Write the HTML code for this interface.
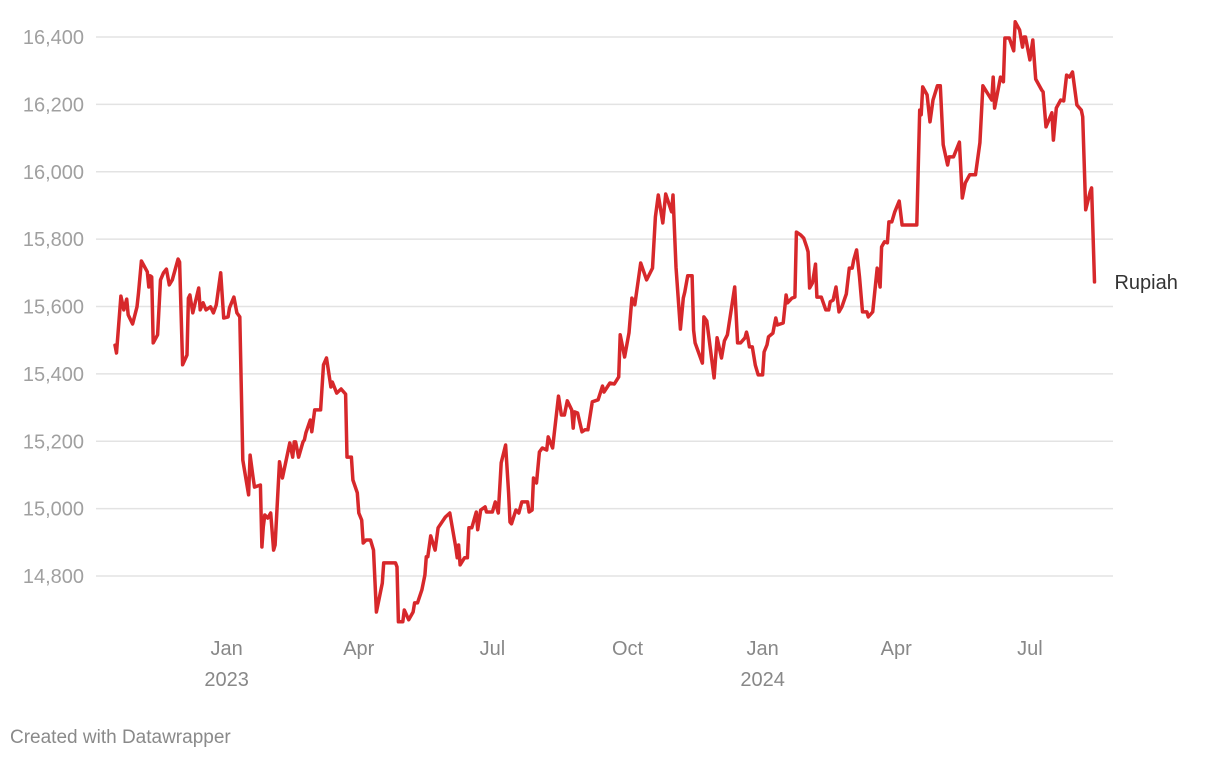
<!DOCTYPE html>
<html><head><meta charset="utf-8"><style>
html,body{margin:0;padding:0;background:#fff;width:1220px;height:760px;overflow:hidden;font-family:"Liberation Sans",Arial,sans-serif}
svg{display:block}
</style></head><body>
<svg id="chart" width="1220" height="760" viewBox="0 0 1220 760" xmlns="http://www.w3.org/2000/svg">
<g id="grid"></g>
<g id="yaxis"></g>
<g id="xaxis"></g>
<g id="series"></g>
<text x="10" y="743" font-size="19" fill="#8a8a8a">Created with Datawrapper</text>
</svg>
<script>
const startDate = "2022-10-17";
const dayOffsets = [0,1,4,6,8,9,12,15,16,18,22,23,24,25,26,29,31,33,35,37,39,43,44,46,49,50,51,53,57,58,60,62,65,67,69,72,74,77,78,81,83,85,87,91,92,94,95,99,100,101,102,104,106,108,109,112,114,117,119,121,122,123,125,128,129,130,133,134,136,140,142,144,147,148,151,154,157,158,161,162,165,166,168,169,171,174,176,178,182,183,191,192,193,196,197,200,203,204,206,209,211,212,213,215,218,220,225,228,232,233,234,235,238,240,241,243,246,247,249,252,253,257,259,261,263,266,268,269,270,273,275,277,281,282,284,285,287,289,291,294,295,298,299,302,304,306,308,311,312,313,315,318,320,322,325,329,332,333,337,340,343,344,347,350,352,354,358,362,366,368,370,373,375,379,380,382,385,387,388,390,393,394,395,400,401,403,408,410,413,415,417,422,424,426,429,430,431,432,434,436,438,441,442,444,445,448,449,450,451,455,457,458,461,463,464,467,469,471,472,473,475,477,478,481,484,486,487,489,491,493,495,498,500,502,503,505,507,509,512,513,516,519,521,522,524,526,527,529,531,534,536,546,548,549,550,553,555,557,560,562,564,567,568,571,575,577,579,582,586,589,591,597,598,599,603,605,606,609,612,613,616,618,619,620,623,625,627,631,632,634,638,639,641,644,646,648,650,652,655,658,659,661,664,665,667];
const rupiahValues = [15485,15462,15631,15590,15622,15575,15548,15599,15640,15735,15703,15658,15691,15688,15492,15516,15679,15700,15711,15664,15679,15741,15732,15427,15456,15625,15634,15581,15655,15590,15611,15590,15599,15581,15605,15700,15566,15569,15596,15628,15581,15569,15144,15041,15159,15094,15064,15070,14886,14946,14981,14972,14987,14877,14892,15139,15091,15153,15195,15153,15198,15198,15153,15198,15204,15225,15263,15228,15293,15293,15427,15447,15361,15376,15343,15355,15340,15153,15153,15085,15047,14987,14966,14898,14907,14907,14877,14693,14779,14839,14839,14827,14664,14664,14699,14670,14693,14720,14720,14759,14803,14857,14857,14919,14877,14943,14975,14987,14886,14854,14892,14833,14854,14854,14943,14943,14990,14937,14996,15005,14990,14990,15020,14987,15136,15189,15047,14960,14955,14996,14987,15020,15020,14990,14996,15091,15076,15168,15180,15174,15213,15180,15219,15334,15278,15278,15320,15293,15239,15287,15284,15228,15234,15234,15317,15323,15364,15346,15373,15370,15391,15516,15450,15522,15625,15605,15729,15679,15714,15866,15931,15848,15934,15881,15931,15717,15533,15625,15643,15691,15691,15530,15492,15432,15569,15557,15388,15507,15447,15498,15516,15658,15492,15492,15507,15524,15507,15480,15480,15426,15397,15397,15465,15486,15510,15521,15545,15566,15545,15551,15634,15611,15625,15628,15821,15812,15803,15777,15762,15655,15670,15726,15628,15628,15590,15590,15614,15619,15658,15584,15599,15637,15714,15714,15738,15768,15688,15584,15584,15569,15584,15714,15658,15777,15792,15789,15851,15851,15881,15913,15842,15842,16183,16169,16252,16228,16148,16213,16255,16255,16080,16020,16044,16044,16088,15922,15967,15991,15991,16086,16255,16213,16281,16189,16281,16267,16397,16397,16359,16445,16421,16370,16400,16400,16332,16391,16275,16243,16237,16133,16175,16094,16189,16213,16210,16287,16281,16296,16198,16183,16163,15887,15940,15952,15673];
const yTicks = [14800,15000,15200,15400,15600,15800,16000,16200,16400];
const xTickDates = ["2023-01-01","2023-04-01","2023-07-01","2023-10-01","2024-01-01","2024-04-01","2024-07-01"];
const xTickLabels = ["Jan","Apr","Jul","Oct","Jan","Apr","Jul"];
const xTickYears = ["2023","","","","2024","",""];
const seriesName = "Rupiah";

const NS = "http://www.w3.org/2000/svg";
const DAY = 86400000;
const t0 = Date.UTC(2022,9,17);
function parseDate(s){const p=s.split("-").map(Number);return Date.UTC(p[0],p[1]-1,p[2]);}
function xScale(day){return 115 + day*1.4685;}
function xDate(s){return xScale((parseDate(s)-parseDate(startDate))/DAY);}
function yScale(v){return 37 + (16400 - v)*0.336875;}
function mk(tag, attrs, parent){const e=document.createElementNS(NS,tag);for(const k in attrs)e.setAttribute(k,attrs[k]);parent.appendChild(e);return e;}

const grid=document.getElementById("grid"), ya=document.getElementById("yaxis"), xa=document.getElementById("xaxis"), ser=document.getElementById("series");
yTicks.forEach(v=>{
  const y=yScale(v);
  const l=mk("line",{x1:96,x2:1113,y1:y,y2:y,stroke:"#e3e3e3","stroke-width":1.5},grid);
  
  
  const t=mk("text",{x:84,y:y+7,"text-anchor":"end","font-size":20,fill:"#a0a0a0"},ya);
  
  
  t.textContent=v.toLocaleString("en-US");
});
xTickDates.forEach((d,i)=>{
  const x=xDate(d);
  const t=mk("text",{x:x,y:655,"text-anchor":"middle","font-size":20,fill:"#888"},xa);
  
  
  t.textContent=xTickLabels[i];
  if(xTickYears[i]){
    const t2=mk("text",{x:x,y:686,"text-anchor":"middle","font-size":20,fill:"#888"},xa);
    
    
    t2.textContent=xTickYears[i];
  }
});
let d="";
dayOffsets.forEach((o,i)=>{d+=(i?"L":"M")+xScale(o).toFixed(1)+","+yScale(rupiahValues[i]).toFixed(1);});
const p=mk("path",{d:d,fill:"none",stroke:"#d7282b","stroke-width":3.5,"stroke-linejoin":"round","stroke-linecap":"round"},ser);


const last=rupiahValues.length-1;
const lab=mk("text",{x:xScale(dayOffsets[last])+20,y:yScale(rupiahValues[last])+7,"font-size":20,fill:"#333"},ser);


lab.textContent=seriesName;
</script>
</body></html>
